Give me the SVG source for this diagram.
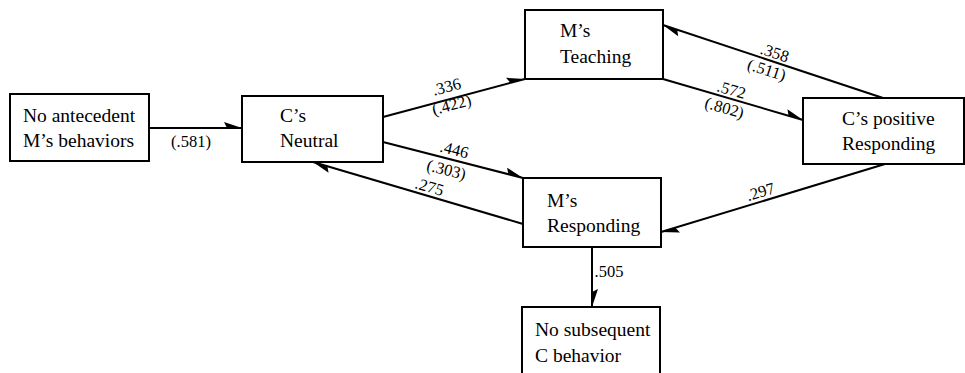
<svg xmlns="http://www.w3.org/2000/svg" width="965" height="373" viewBox="0 0 965 373">
<defs>
<style>
.box{fill:#fff;stroke:#000;stroke-width:2}
.t{font-size:19.5px;fill:#000}
.n{font-size:16.5px;fill:#000;text-anchor:middle}
.c{stroke:#000;stroke-width:2;fill:none;marker-end:url(#ah)}
</style>
<marker id="ah" markerUnits="userSpaceOnUse" markerWidth="22" markerHeight="14" viewBox="-20 -7 22 14" refX="0" refY="0" orient="auto">
<path d="M0,0 L-18,-6 L-15,0 z" fill="#000"/>
</marker>
</defs>
<rect width="965" height="373" fill="#fff"/>
<g font-family="'Liberation Serif', 'DejaVu Serif', 'Times New Roman', serif">
<g id="connectors">
<line class="c" x1="149" y1="128" x2="242" y2="128"/>
<line class="c" x1="383" y1="117" x2="525" y2="79"/>
<line class="c" x1="383" y1="142" x2="523" y2="178"/>
<line class="c" x1="523" y1="224" x2="313" y2="162"/>
<line class="c" x1="663" y1="79" x2="803" y2="120"/>
<line class="c" x1="883" y1="98" x2="663" y2="25"/>
<line class="c" x1="885" y1="164" x2="661" y2="232"/>
<line class="c" x1="592" y1="247" x2="592" y2="307"/>
<text class="n" x="191" y="147">(.581)</text>
<text class="n" transform="translate(448,92) rotate(-15)">.336</text>
<text class="n" transform="translate(453,110) rotate(-15)">(.422)</text>
<text class="n" transform="translate(453,155) rotate(14)">.446</text>
<text class="n" transform="translate(445,175) rotate(14)">(.303)</text>
<text class="n" transform="translate(428,192) rotate(16)">.275</text>
<text class="n" transform="translate(773,58) rotate(18)">.358</text>
<text class="n" transform="translate(765,75) rotate(18)">(.511)</text>
<text class="n" transform="translate(730,95) rotate(16)">.572</text>
<text class="n" transform="translate(723,113) rotate(16)">(.802)</text>
<text class="n" transform="translate(762,197) rotate(-17)">.297</text>
<text class="n" x="609" y="277">.505</text>
</g>
<g id="no-antecedent">
<rect class="box" x="10" y="94" width="139" height="67"/>
<text class="t" x="23" y="122">No antecedent</text>
<text class="t" x="23" y="147">M’s behaviors</text>
</g>
<g id="cs-neutral">
<rect class="box" x="242" y="96" width="141" height="66"/>
<text class="t" x="280" y="122">C’s</text>
<text class="t" x="280" y="147">Neutral</text>
</g>
<g id="ms-teaching">
<rect class="box" x="525" y="10" width="138" height="69"/>
<text class="t" x="560" y="37">M’s</text>
<text class="t" x="560" y="63">Teaching</text>
</g>
<g id="cs-positive">
<rect class="box" x="803" y="98" width="161" height="66"/>
<text class="t" x="842" y="125">C’s positive</text>
<text class="t" x="842" y="150">Responding</text>
</g>
<g id="ms-responding">
<rect class="box" x="523" y="178" width="138" height="69"/>
<text class="t" x="547" y="207">M’s</text>
<text class="t" x="547" y="232">Responding</text>
</g>
<g id="no-subsequent">
<rect class="box" x="522" y="307" width="138" height="80"/>
<text class="t" x="535" y="336">No subsequent</text>
<text class="t" x="535" y="362">C behavior</text>
</g>
</g>
</svg>
